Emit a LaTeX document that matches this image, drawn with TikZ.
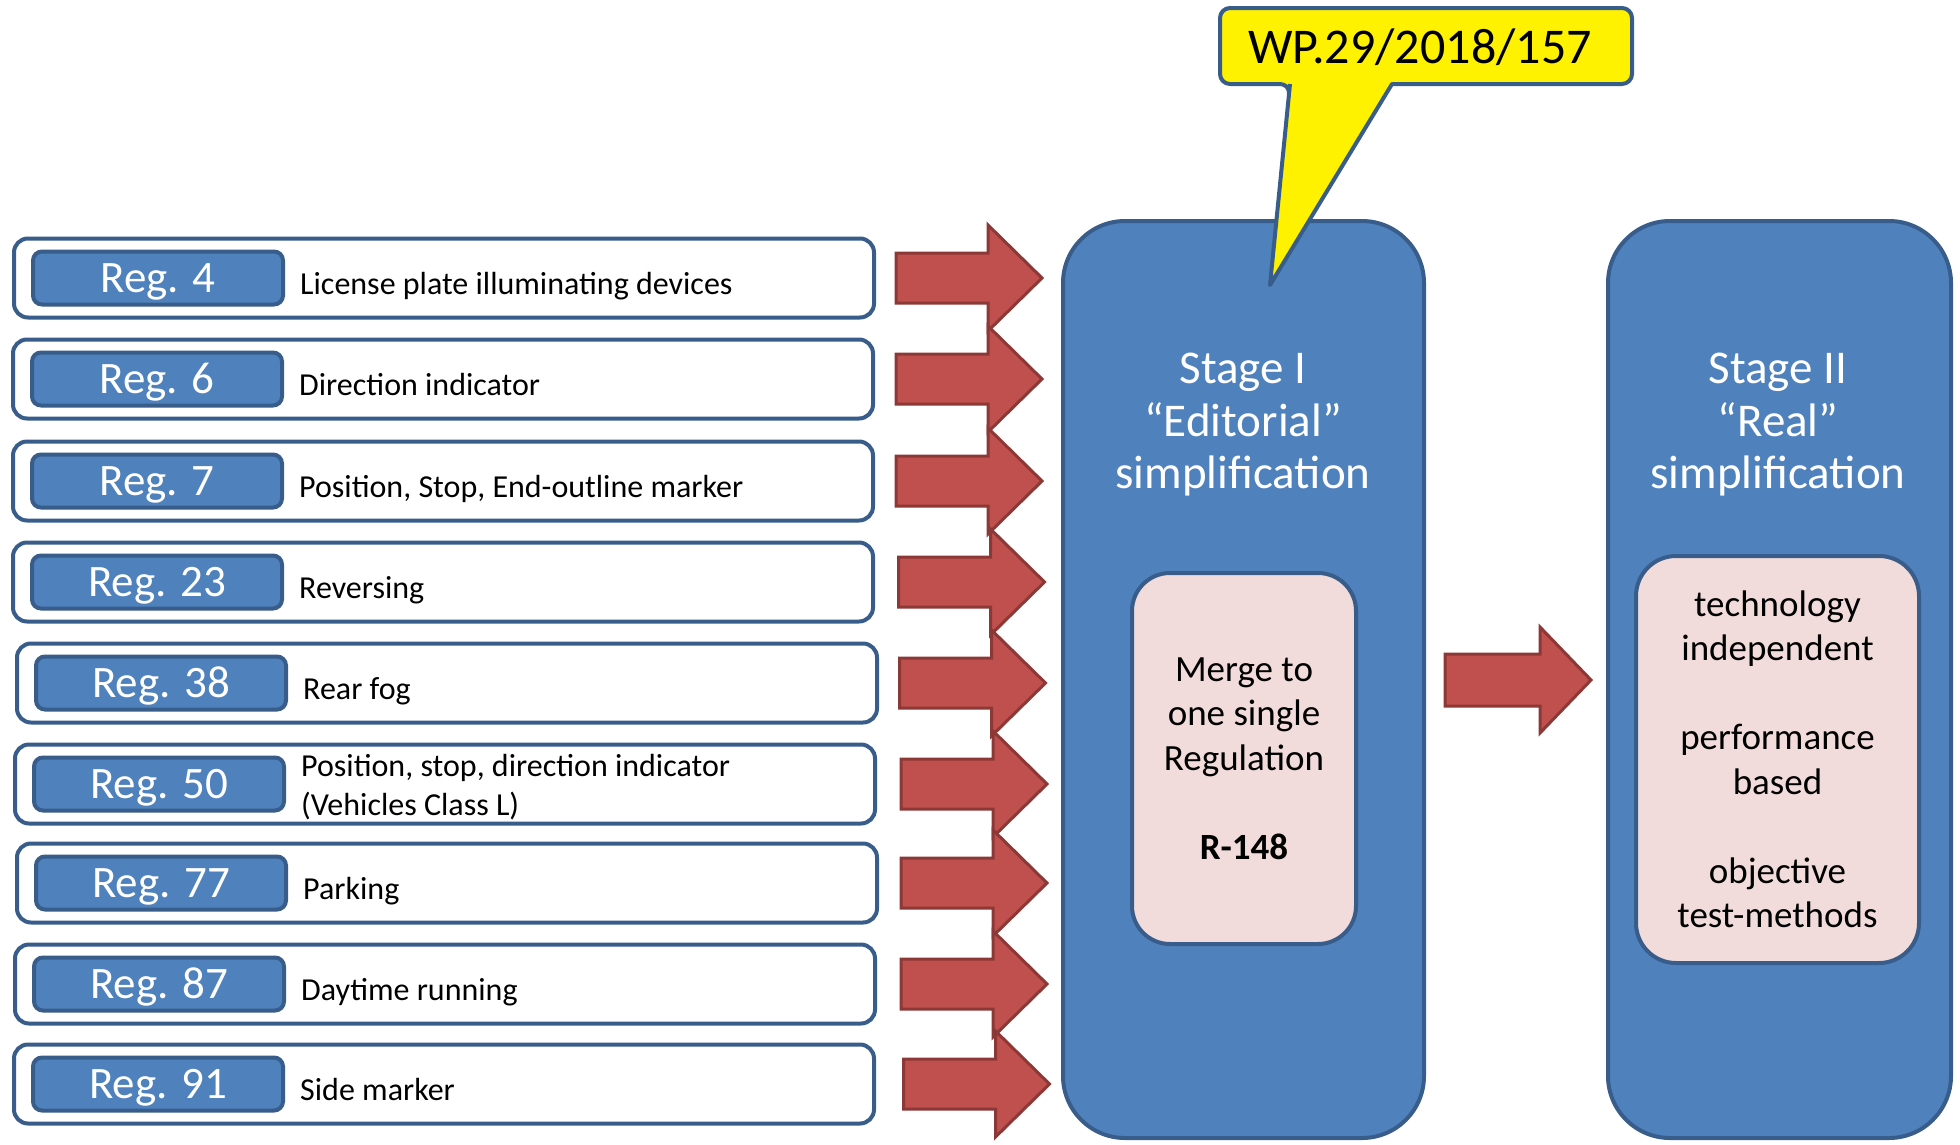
\documentclass[tikz,border=0pt]{standalone}
\usepackage{fontspec}
\setmainfont{Carlito}
\definecolor{bfill}{HTML}{4F81BD}
\definecolor{bline}{HTML}{385D8A}
\definecolor{rfill}{HTML}{C0504D}
\definecolor{rline}{HTML}{8C3836}
\definecolor{pinkf}{HTML}{F2DCDB}
\newcommand\BlkArrow[5]{% body left, head base, tip, center y, body half height
  \draw[blockarrow] (#1,#4-#5) -- (#2,#4-#5) -- (#2,#4-53) -- (#3,#4) -- (#2,#4+53) -- (#2,#4+#5) -- (#1,#4+#5) -- cycle;}
\newcommand\RegRow[6]{% name, center y, dx, reg text, label, arrow dx
  \node[rowbox] (row#1) at (444+#3,#2) {};
  \node[regbox] (reg#1) at (158+#3,#2) {#4};
  \node[lbl, anchor=base west] (lbl#1) at (300+#3,#2+16) {#5};
  \BlkArrow{896+#6}{988+#6}{1042+#6}{#2}{25}}
\begin{document}
\begin{tikzpicture}[x=1pt,y=-1pt,
  rowbox/.style={draw=bline, line width=4pt, rounded corners=14pt, fill=white,
    minimum width=860pt, minimum height=79pt, inner sep=0pt},
  regbox/.style={draw=bline, line width=4pt, fill=bfill, rounded corners=9pt,
    minimum width=250pt, minimum height=53pt, inner sep=0pt, text=white,
    text height=29pt, text depth=0pt, font=\fontsize{45}{54}\selectfont},
  lbl/.style={inner sep=0pt, align=left, font=\fontsize{32}{39}\selectfont},
  blockarrow/.style={draw=rline, fill=rfill, line width=3pt, line join=miter},
  stagebox/.style={draw=bline, line width=4pt, fill=bfill, rounded corners=62pt,
    minimum height=917pt, inner sep=0pt},
  stagetitle/.style={text=white, align=center, inner sep=0pt,
    font=\fontsize{47}{52.5}\selectfont},
  pinkbox/.style={draw=bline, line width=4pt, fill=pinkf, align=center, inner sep=0pt,
    font=\fontsize{37}{44.5}\selectfont},
  callout/.style={draw=bline, line width=4pt, fill=yellow, line join=round}
]
\useasboundingbox (0,0) rectangle (1960,1144);

\RegRow{1}{278}{0}{Reg. 4}{License plate illuminating devices}{0}
\RegRow{2}{379}{-1}{Reg. 6}{Direction indicator}{0}
\RegRow{3}{481}{-1}{Reg. 7}{Position, Stop, End-outline marker}{0}
\RegRow{4}{582}{-1}{Reg. 23}{Reversing}{2.5}
\RegRow{5}{683}{3}{Reg. 38}{Rear fog}{3.5}
% row 6 has a two-line label
\node[rowbox] (row6) at (445,784) {};
\node[regbox] (reg6) at (159,784) {Reg. 50};
\node[lbl, anchor=west] (lbl6) at (301,787) {Position, stop, direction indicator\\(Vehicles Class L)};
\BlkArrow{901}{993}{1047}{784}{25}
\RegRow{7}{883}{3}{Reg. 77}{Parking}{5}
\RegRow{8}{984}{1}{Reg. 87}{Daytime running}{5}
\RegRow{9}{1084}{0}{Reg. 91}{Side marker}{7.5}

% Stage I
\node[stagebox, minimum width=361pt] (stage1) at (1243.5,679.5) {};
\node[stagetitle] (stage1title) at (1243,425) {Stage I\\“Editorial”\\simplification};
\node[pinkbox, minimum width=224pt, minimum height=371pt, rounded corners=38pt] (merge) at (1244,758.5)
  {Merge to\\one single\\Regulation\\[44.5pt]\textbf{R-148}};

% Stage II
\node[stagebox, minimum width=343pt] (stage2) at (1779.5,679.5) {};
\node[stagetitle] (stage2title) at (1778,425) {Stage II\\“Real”\\simplification};
\node[pinkbox, minimum width=283pt, minimum height=407pt, rounded corners=40pt] (real) at (1777.5,759.5)
  {technology\\independent\\[44.5pt]performance\\based\\[44.5pt]objective\\test-methods};

% arrow between stages
\BlkArrow{1445}{1540}{1591}{680}{26}

% callout
\draw[callout] (1290,84) -- (1270,285) -- (1392,84) [rounded corners=10pt] -- (1632,84) -- (1632,8) -- (1220,8) -- (1220,84) -- (1290,84) -- (1270,285);
\node[inner sep=0pt, font=\fontsize{50}{60}\selectfont] (wp) at (1420,47) {WP.29/2018/157};
\end{tikzpicture}
\end{document}
